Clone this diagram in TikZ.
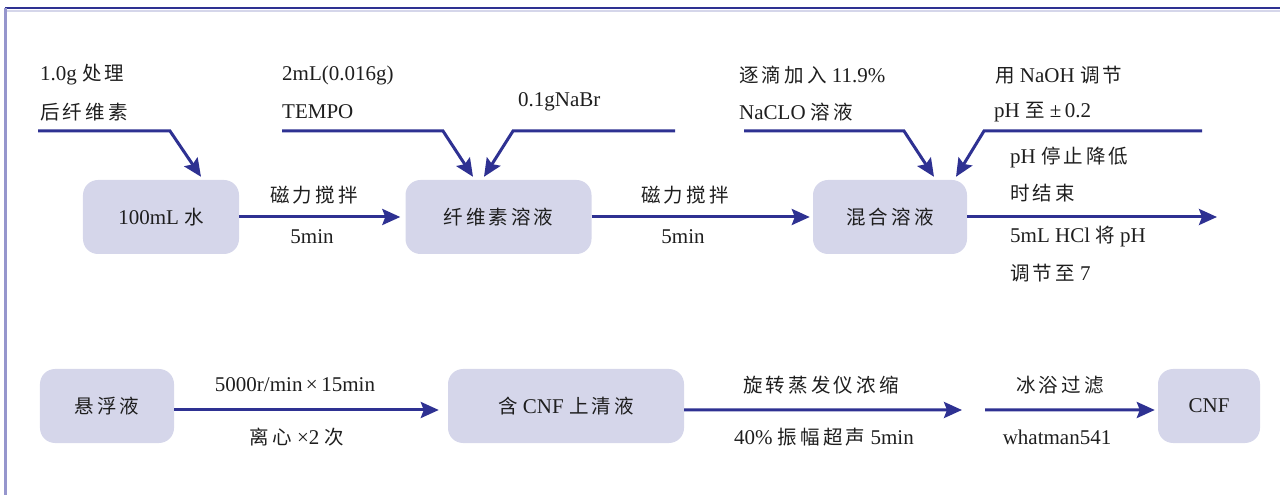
\documentclass[tikz,border=0pt]{standalone}
\usepackage{fontspec}
\setmainfont{Liberation Serif}
\newfontfamily\cjkfont[LetterSpace=16]{Noto Sans CJK SC}
\newcommand{\zh}[1]{{\cjkfont\fontsize{19.5bp}{22bp}\selectfont #1}}
\usetikzlibrary{arrows.meta}
\definecolor{arrblue}{RGB}{46,49,146}
\definecolor{boxfill}{RGB}{213,214,234}
\definecolor{leftline}{RGB}{150,150,205}
\definecolor{txt}{RGB}{30,30,30}
\tikzset{
  box/.style={fill=boxfill, rounded corners=15bp, inner sep=0pt, text=txt, font=\fontsize{21bp}{24bp}\selectfont},
  lbl/.style={inner sep=0pt, text=txt, font=\fontsize{21bp}{24bp}\selectfont},
  arr/.style={draw=arrblue, line width=3bp, -{Stealth[length=18bp,width=16bp,inset=3bp]}},
}
\begin{document}
\begin{tikzpicture}[x=1bp,y=-1bp]
\useasboundingbox (0,0) rectangle (1280,495);
% frame
\draw[draw=boxfill, line width=1.5bp] (6,11) -- (1280,11);
\draw[draw=arrblue, line width=2bp] (5,8.5) -- (1280,8.5);
\draw[draw=leftline, line width=2.2bp] (5.5,8) -- (5.5,495);
% nodes row 1
\node[box, minimum width=156bp, minimum height=74bp] (n1) at (161,217) {100mL \zh{水}};
\node[box, minimum width=186bp, minimum height=74bp] (n2) at (498.5,217) {\zh{纤维素溶液}};
\node[box, minimum width=154bp, minimum height=74bp] (n3) at (890,217) {\zh{混合溶液}};
% nodes row 2
\node[box, minimum width=134bp, minimum height=74bp] (m1) at (107,406) {\zh{悬浮液}};
\node[box, minimum width=236bp, minimum height=74bp] (m2) at (566,406) {\zh{含} CNF \zh{上清液}};
\node[box, minimum width=102bp, minimum height=74bp] (m3) at (1209,406) {CNF};
% top labels
\node[lbl, anchor=west] (t1a) at (40,75) {1.0g \zh{处理}};
\node[lbl, anchor=west] (t1b) at (40,112) {\zh{后纤维素}};
\node[lbl, anchor=west] (t2a) at (282,75) {2mL(0.016g)};
\node[lbl, anchor=west] (t2b) at (282,112) {TEMPO};
\node[lbl, anchor=west] (t3) at (518,102) {0.1gNaBr};
\node[lbl, anchor=west] (t4a) at (739,75) {\zh{逐滴加入} 11.9\%};
\node[lbl, anchor=west] (t4b) at (739,112) {NaCLO \zh{溶液}};
\node[lbl, anchor=west] (t5a) at (995,75) {\zh{用} NaOH \zh{调节}};
\node[lbl, anchor=west] (t5b) at (994,112) {pH \zh{至} ±\,0.2};
\node[lbl, anchor=west] (t6a) at (1010,157) {pH \zh{停止降低}};
\node[lbl, anchor=west] (t6b) at (1010,193) {\zh{时结束}};
\node[lbl, anchor=west] (t6c) at (1010,237) {5mL HCl \zh{将} pH};
\node[lbl, anchor=west] (t6d) at (1010,273) {\zh{调节至} 7};
% arrow labels row 1
\node[lbl] (a1a) at (314,195) {\zh{磁力搅拌}};
\node[lbl] (a1b) at (312,237) {5min};
\node[lbl] (a2a) at (685,195) {\zh{磁力搅拌}};
\node[lbl] (a2b) at (683,237) {5min};
% arrow labels row 2
\node[lbl] (b1a) at (295,385) {5000r/min\,×\,15min};
\node[lbl] (b1b) at (297,437) {\zh{离心} ×2 \zh{次}};
\node[lbl] (b2a) at (821,385) {\zh{旋转蒸发仪浓缩}};
\node[lbl] (b2b) at (824,437) {40\% \zh{振幅超声} 5min};
\node[lbl] (b3a) at (1060,385) {\zh{冰浴过滤}};
\node[lbl] (b3b) at (1057,437) {whatman541};
% free ends
\coordinate (s1) at (38,131);
\coordinate (s2) at (282,131);
\coordinate (s3) at (675,131);
\coordinate (s4) at (744,131);
\coordinate (s5) at (1202,131);
\coordinate (o1) at (1217,217);
\coordinate (o2) at (962,410);
\coordinate (o3) at (985,410);
% inputs
\draw[arr] (s1) -- (170,131) -- ([xshift=40bp,yshift=3bp]n1.north);
\draw[arr] (s2) -- (443,131) -- ([xshift=-25.5bp,yshift=3bp]n2.north);
\draw[arr] (s3) -- (513,131) -- ([xshift=-14.5bp,yshift=3bp]n2.north);
\draw[arr] (s4) -- (904,131) -- ([xshift=44bp,yshift=3bp]n3.north);
\draw[arr] (s5) -- (984,131) -- ([xshift=66bp,yshift=3bp]n3.north);
% main flow
\draw[arr, shorten >=5bp] (n1.east) -- (n2.west);
\draw[arr, shorten >=3bp] (n2.east) -- (n3.west);
\draw[arr] (n3.east) -- (o1);
\draw[arr, shorten >=9bp] ([yshift=-4bp]m1.east) -- ([yshift=-4bp]m2.west);
\draw[arr] ([yshift=-4bp]m2.east) -- (o2);
\draw[arr, shorten >=3bp] (o3) -- ([yshift=-4bp]m3.west);
\end{tikzpicture}
\end{document}
